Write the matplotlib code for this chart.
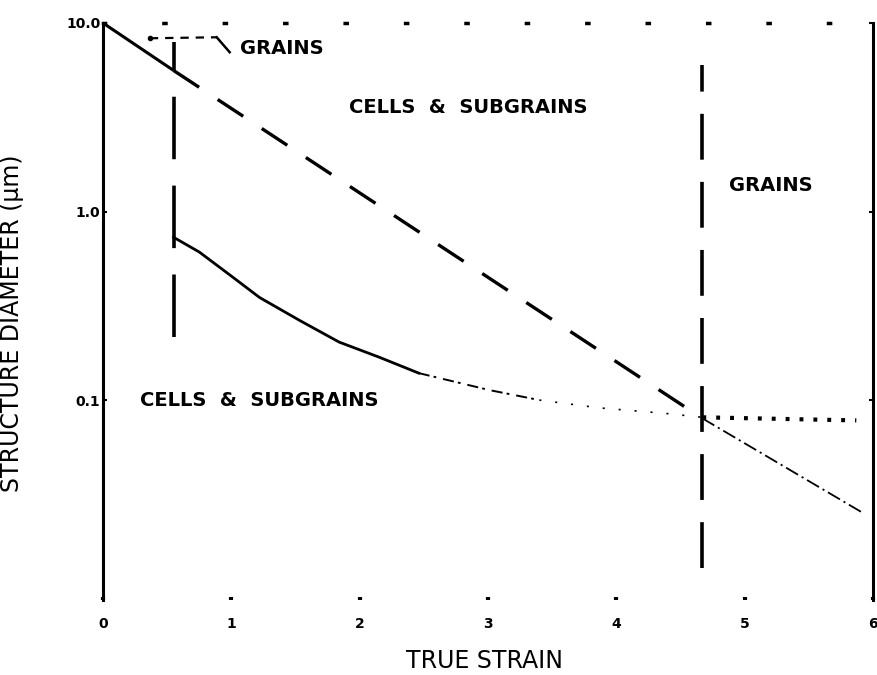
import matplotlib.pyplot as plt
import numpy as np

plt.rcParams['lines.scale_dashes'] = False
plt.rcParams['font.family'] = ['DejaVu Sans']

# upper boundary: grains -> cells & subgrains (straight in log space)
strain_upper = [0.0, 0.55, 4.67, 5.93]
diam_upper = [10.0, 5.6, 0.080, 0.025]

# lower curve: cells & subgrains size
strain_lower = [0.55, 0.75, 0.99, 1.22, 1.53, 1.84, 2.15, 2.46, 3.01, 3.40, 3.86, 4.38, 4.67]
diam_lower = [0.73, 0.61, 0.46, 0.35, 0.265, 0.203, 0.169, 0.139, 0.113, 0.100, 0.091, 0.085, 0.081]

# grain size after recrystallisation
strain_plateau = [4.67, 5.87]
diam_plateau = [0.081, 0.078]

# strain at the two transitions and the span of the marker lines
transition_strain = [0.55, 4.67]
transition_lo = [0.216, 0.0128]
transition_hi = [7.93, 5.98]

# leader from the small grains label
leader_x = [0.365, 0.886, 0.987]
leader_y = [8.3, 8.4, 7.0]

region_text = ["GRAINS", "CELLS  &  SUBGRAINS", "GRAINS", "CELLS  &  SUBGRAINS"]
region_x = [1.07, 1.92, 4.88, 0.29]
region_y = [7.35, 3.58, 1.38, 0.10]

x_ticks = [0, 1, 2, 3, 4, 5, 6]
y_ticks = [0.1, 1.0, 10.0]
y_tick_labels = ["0.1", "1.0", "10.0"]

fig = plt.figure(figsize=(8.77, 6.75), dpi=100)
ax = fig.add_axes([103 / 877, 75 / 675, 770 / 877, 577 / 675])
ax.set_yscale('log')
ax.set_xlim(0, 6)
ax.set_ylim(0.0087, 10)

k = 'black'
# upper boundary: solid, dashed, then dash-dot past the second transition
ax.plot(strain_upper[:2], diam_upper[:2], color=k, lw=2.2, solid_capstyle='butt')
ax.plot(strain_upper[1:3], diam_upper[1:3], color=k, lw=2.4, dashes=(22, 16))
ax.plot(strain_upper[2:], diam_upper[2:], color=k, lw=1.3, dashes=(10, 3, 1.5, 3))

# lower curve fades from solid to dotted
ax.plot(strain_lower[:8], diam_lower[:8], color=k, lw=2.0)
ax.plot(strain_lower[7:10], diam_lower[7:10], color=k, lw=1.4, dashes=(8, 3, 2, 5))
ax.plot(strain_lower[9:], diam_lower[9:], color=k, lw=1.2, dashes=(1.5, 10))

ax.plot(strain_plateau, diam_plateau, color=k, lw=3.0, dashes=(2.8, 7.2))

# transition markers
ax.vlines(transition_strain[0], transition_lo[0], transition_hi[0], color=k, lw=2.6,
          linestyles=[(0, (45, 19))])
ax.vlines(transition_strain[1], transition_lo[1], transition_hi[1], color=k, lw=2.6,
          linestyles=[(0, (33, 16))])

ax.plot(leader_x[:2], leader_y[:2], color=k, lw=1.6, dashes=(6, 5))
ax.plot(leader_x[1:], leader_y[1:], color=k, lw=1.8)
ax.plot(leader_x[0], leader_y[0], 'o', color=k, ms=3)

for txt, tx, ty in zip(region_text, region_x, region_y):
    ax.text(tx, ty, txt, fontsize=14, fontweight='bold', va='center', ha='left')

# axes frame: solid sides, sparse dots on top, no bottom line
for side in ('left', 'right'):
    ax.spines[side].set_linewidth(2.2)
ax.spines['bottom'].set_visible(False)
ax.spines['top'].set_linewidth(2.5)
ax.spines['top'].set_linestyle((0, (1.5, 42)))

ax.set_xticks(x_ticks)
ax.set_xticklabels([str(t) for t in x_ticks], fontsize=10, fontweight='bold')
ax.set_yticks(y_ticks)
ax.set_yticklabels(y_tick_labels, fontsize=10, fontweight='bold')
ax.minorticks_off()
ax.tick_params(axis='x', direction='in', length=2, width=3, pad=12)
ax.tick_params(axis='y', direction='in', length=4, width=1.5, pad=2)
ax.tick_params(axis='y', which='major', right=True, length=3)

ax.set_xlabel("TRUE STRAIN", fontsize=17)
ax.xaxis.set_label_coords(0.495, -0.085)
ax.set_ylabel("STRUCTURE DIAMETER (\u03bcm)", fontsize=17)
ax.yaxis.set_label_coords(-0.103, 0.48)

fig.savefig("out.png", dpi=100)
